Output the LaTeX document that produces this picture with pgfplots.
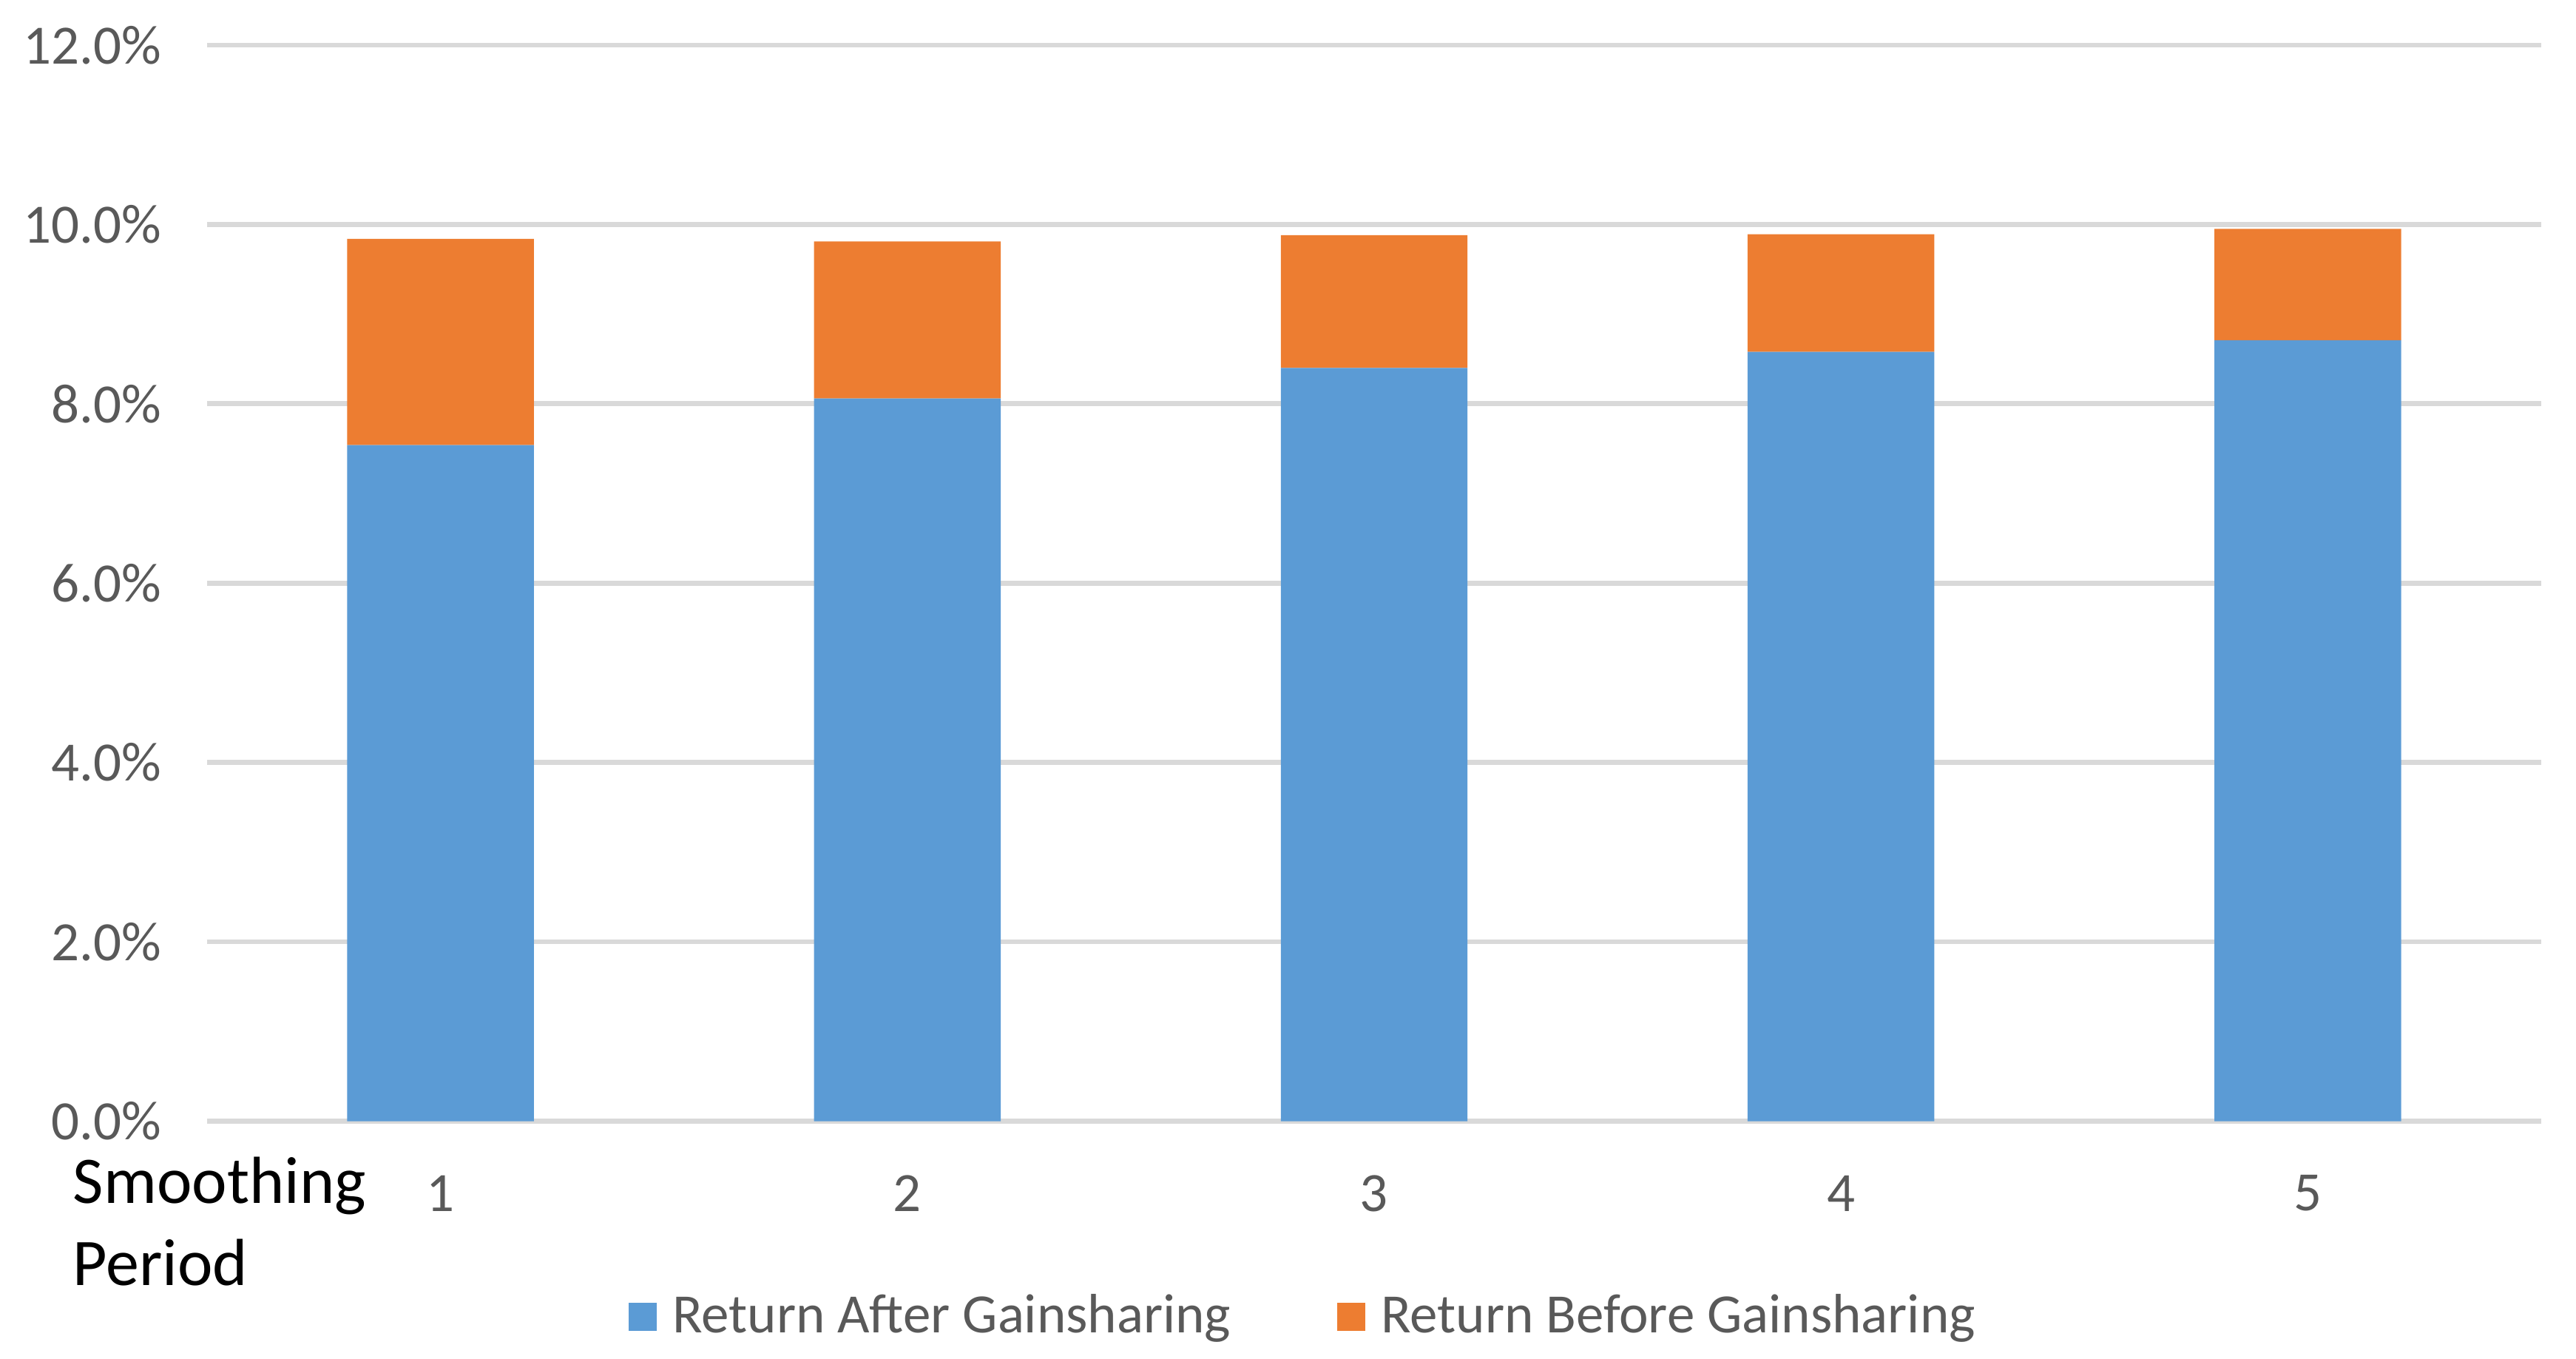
\documentclass[border=0pt]{standalone}
\usepackage{fontspec}
\setmainfont{Carlito}
\usepackage{pgfplots}
\pgfplotsset{compat=1.18}
\definecolor{afterblue}{HTML}{5B9BD5}
\definecolor{beforeorange}{HTML}{ED7D31}
\definecolor{gridgrey}{HTML}{D9D9D9}
\definecolor{labelgrey}{HTML}{595959}

\begin{document}
\begin{tikzpicture}
% page frame; the axis box has its south west corner at (0,0)
\path[use as bounding box] (-56pt,-64.1pt) rectangle (640.6pt,303.1pt);
\begin{axis}[
  scale only axis,
  width=631.2pt, height=290.9pt,
  xmin=0.5, xmax=5.5,
  ymin=0, ymax=12,
  clip=false,
  ybar stacked,
  bar width=0.4,
  xtick={1,2,3,4,5},
  ytick={0,2,4,6,8,10,12},
  ymajorgrids,
  grid style={gridgrey, line width=1.35pt},
  axis line style={draw=none},
  tick style={draw=none},
  /pgf/number format/assume math mode=true,
  yticklabel={\pgfmathprintnumber[fixed,fixed zerofill,precision=1]{\tick}\%},
  ticklabel style={font=\fontsize{15}{18}\selectfont, text=labelgrey},
  yticklabel style={anchor=east, xshift=-8.8pt},
  xticklabel style={anchor=center, yshift=-19.5pt},
  legend columns=2,
  legend style={at={(0.4707,-0.1815)}, anchor=center, draw=none,
    font=\fontsize{15}{18}\selectfont, text=labelgrey,
    /tikz/every even column/.append style={column sep=26.8pt}},
  legend image code/.code={%
    \fill[#1] (0pt,-3.8pt) rectangle (7.6pt,3.8pt);
    \path (9.8pt,0pt);},
]
\addplot+[fill=afterblue, draw=none] coordinates {
  (1,7.54) (2,8.06) (3,8.40) (4,8.58) (5,8.71)
};
\addlegendentry{Return After Gainsharing}
\addplot+[fill=beforeorange, draw=none] coordinates {
  (1,2.30) (2,1.75) (3,1.48) (4,1.31) (5,1.24)
};
\addlegendentry{Return Before Gainsharing}
\node[anchor=base west, font=\fontsize{18}{22}\selectfont, inner sep=0pt]
  at ([xshift=-36.4pt, yshift=-22.1pt]rel axis cs:0,0) {Smoothing};
\node[anchor=base west, font=\fontsize{18}{22}\selectfont, inner sep=0pt]
  at ([xshift=-36.4pt, yshift=-44.3pt]rel axis cs:0,0) {Period};
\end{axis}
\end{tikzpicture}
\end{document}
